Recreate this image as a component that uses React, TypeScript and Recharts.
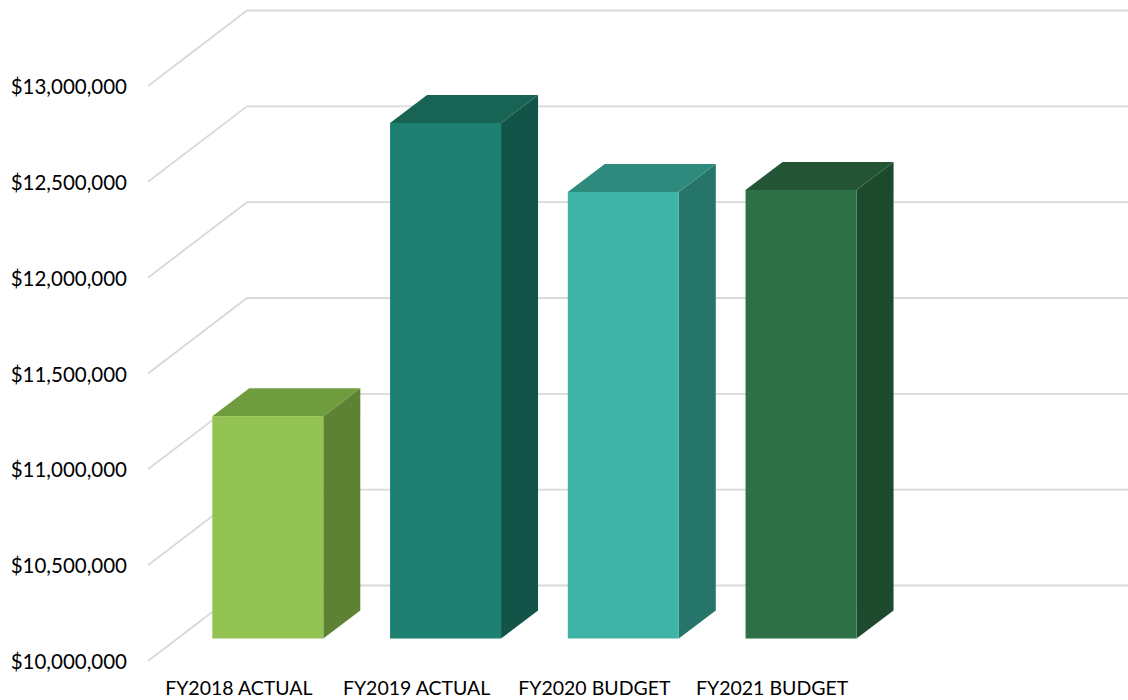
import { BarChart, Bar, XAxis, YAxis, CartesianGrid } from "recharts"

const categories = ["FY2018 ACTUAL", "FY2019 ACTUAL", "FY2020 BUDGET", "FY2021 BUDGET"]
const amounts = [11160000, 12690000, 12330000, 12340000]
const yTicks = [10000000, 10500000, 11000000, 11500000, 12000000, 12500000, 13000000]

const data = categories.map((name, i) => ({ name, amount: amounts[i] }))

// front / top / side shades for each bar
const palette = [
  { front: "#92C353", top: "#6F9C3C", side: "#5E8233" },
  { front: "#1E8070", top: "#186454", side: "#135448" },
  { front: "#3EB3A6", top: "#2E8A7C", side: "#26756A" },
  { front: "#2D7045", top: "#235534", side: "#1D4A2C" },
]

// depth of the whole plot (back wall offset) and of the bars
const WALL_DX = 99
const WALL_DY = -75.5
const FRONT_DX = 29.3
const FRONT_DY = -22.5
const BAR_DX = 37
const BAR_DY = -28

const font = "Lato, 'Open Sans', sans-serif"

const formatMoney = (v: number) => "$" + v.toLocaleString("en-US")

function GridLine(props: any) {
  const { x1, y1 } = props
  const sx = x1 - 2
  return (
    <path
      key={props.key ?? `g-${y1}`}
      d={`M${sx},${y1} L${sx + WALL_DX},${y1 + WALL_DY} L1128,${y1 + WALL_DY}`}
      fill="none"
      stroke="#d9d9d9"
      strokeWidth={1.8}
    />
  )
}

function Bar3D(props: any) {
  const { x, y, width, height, index } = props
  const c = palette[index % palette.length]
  const fx = x + FRONT_DX
  const fy = y + FRONT_DY
  const top = `${fx},${fy} ${fx + BAR_DX},${fy + BAR_DY} ${fx + width + BAR_DX},${fy + BAR_DY} ${fx + width},${fy}`
  const side = `${fx + width},${fy} ${fx + width + BAR_DX},${fy + BAR_DY} ${fx + width + BAR_DX},${fy + BAR_DY + height} ${fx + width},${fy + height}`
  return (
    <g>
      <polygon points={side} fill={c.side} />
      <polygon points={top} fill={c.top} />
      <rect x={fx} y={fy} width={width} height={height} fill={c.front} />
    </g>
  )
}

function YTick(props: any) {
  const { y, payload } = props
  return (
    <text x={127} y={y} textAnchor="end" dominantBaseline="central" fontFamily={font} fontSize={20.5} fill="#000">
      {formatMoney(payload.value)}
    </text>
  )
}

function XTick(props: any) {
  const { x, payload } = props
  return (
    <text x={x} y={687} textAnchor="middle" dominantBaseline="central" fontFamily={font} fontSize={19.5} fill="#000">
      {payload.value}
    </text>
  )
}

export default function App() {
  return (
    <div style={{ position: "absolute", left: 0, top: 0, width: 1128, height: 700, background: "#fff" }}>
      <BarChart width={1128} height={700} data={data} margin={{ top: 86, right: 267, left: 0, bottom: 0 }}>
        <CartesianGrid vertical={false} horizontal={GridLine} />
        <XAxis dataKey="name" axisLine={false} tickLine={false} height={39} tick={XTick} interval={0} />
        <YAxis
          width={150}
          domain={[10000000, 13000000]}
          ticks={yTicks}
          axisLine={false}
          tickLine={false}
          tick={YTick}
          interval={0}
        />
        <Bar dataKey="amount" barSize={111} shape={Bar3D} isAnimationActive={false} />
      </BarChart>
    </div>
  )
}
